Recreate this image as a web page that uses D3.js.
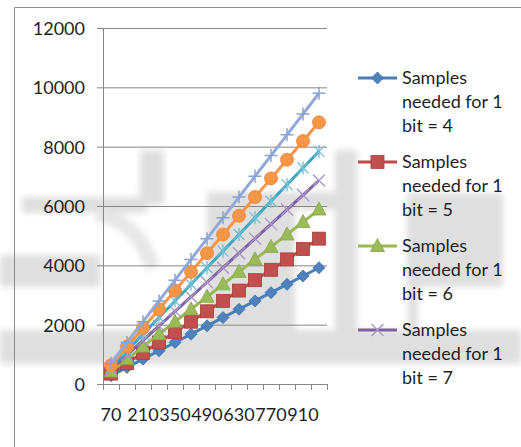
<!DOCTYPE html>
<html>
<head>
<meta charset="utf-8">
<script src="https://cdn.jsdelivr.net/npm/d3@7"></script>
<style>
  html, body { margin: 0; padding: 0; background: #fff; }
  svg { display: block; }
  text { font-family: Lato, "Open Sans", sans-serif; fill: #1f1f1f; }
</style>
</head>
<body>
<svg id="chart" width="521" height="447"></svg>
<script>
// Samples per run (category axis)
const categories = [70, 140, 210, 280, 350, 420, 490, 560, 630, 700, 770, 840, 910, 980];

// Total samples needed, one list per "samples needed for 1 bit" setting
const samples4  = [280, 560, 840, 1120, 1400, 1680, 1960, 2240, 2520, 2800, 3080, 3360, 3640, 3920];
const samples5  = [350, 700, 1050, 1400, 1750, 2100, 2450, 2800, 3150, 3500, 3850, 4200, 4550, 4900];
const samples6  = [420, 840, 1260, 1680, 2100, 2520, 2940, 3360, 3780, 4200, 4620, 5040, 5460, 5880];
const samples7  = [490, 980, 1470, 1960, 2450, 2940, 3430, 3920, 4410, 4900, 5390, 5880, 6370, 6860];
const samples8  = [560, 1120, 1680, 2240, 2800, 3360, 3920, 4480, 5040, 5600, 6160, 6720, 7280, 7840];
const samples9  = [630, 1260, 1890, 2520, 3150, 3780, 4410, 5040, 5670, 6300, 6930, 7560, 8190, 8820];
const samples10 = [700, 1400, 2100, 2800, 3500, 4200, 4900, 5600, 6300, 7000, 7700, 8400, 9100, 9800];

const seriesNames = [
  "Samples needed for 1 bit = 4",
  "Samples needed for 1 bit = 5",
  "Samples needed for 1 bit = 6",
  "Samples needed for 1 bit = 7",
  "Samples needed for 1 bit = 8",
  "Samples needed for 1 bit = 9",
  "Samples needed for 1 bit = 10"
];
const yTicks = [0, 2000, 4000, 6000, 8000, 10000, 12000];
const xTickLabels = ["70", "210", "350", "490", "630", "770", "910"];

const seriesValues = [samples4, samples5, samples6, samples7, samples8, samples9, samples10];

// Visual style for each series: line colour, marker shape and colours
const styles = [
  { line: "#4A7EBB", marker: "diamond",  fill: "#4F81BD", stroke: "#3D6EAB" },
  { line: "#BE4B48", marker: "square",   fill: "#C0504D", stroke: "#A63E3B" },
  { line: "#98B954", marker: "triangle", fill: "#9BBB59", stroke: "#86A646" },
  { line: "#7D60A0", marker: "x",        fill: "none",    stroke: "#A996C7" },
  { line: "#3FA6C2", marker: "star",     fill: "none",    stroke: "#6FBFD4" },
  { line: "#F79646", marker: "circle",   fill: "#F79646", stroke: "#E8873A" },
  { line: "#93A9D8", marker: "plus",     fill: "none",    stroke: "#8AA2D4" }
];

const FONT = "18px";
const svg = d3.select("#chart");

// ---- soft grey shapes in the background ----
const defs = svg.append("defs");
defs.append("filter").attr("id", "soft").attr("x", "-20%").attr("y", "-20%")
  .attr("width", "140%").attr("height", "140%")
  .append("feGaussianBlur").attr("stdDeviation", 3);

const bg = svg.append("g").attr("filter", "url(#soft)").attr("fill", "#dfdfdf");
[
  [22, 197, 125, 16],
  [140, 150, 24, 55],
  [0, 255, 100, 32],
  [0, 330, 521, 34],
  [207, 192, 150, 18],
  [207, 192, 88, 140],
  [335, 150, 22, 182],
  [407, 193, 96, 94],
  [408, 287, 10, 45]
].forEach(r => bg.append("rect").attr("x", r[0]).attr("y", r[1]).attr("width", r[2]).attr("height", r[3]));
bg.append("path").attr("d", "M96,214 Q140,222 152,268")
  .attr("fill", "none").attr("stroke", "#e6e6e6").attr("stroke-width", 14);

// ---- chart area border ----
svg.append("path").attr("d", "M14.5,447 V7.5 H521")
  .attr("fill", "none").attr("stroke", "#8c8c8c").attr("stroke-width", 1);

// ---- plot area ----
const plot = { left: 103, right: 327, top: 28, bottom: 384 };

const x = d3.scaleBand().domain(categories).range([plot.left, plot.right]).padding(0);
const y = d3.scaleLinear().domain([0, 12000]).range([plot.bottom, plot.top]);

// horizontal gridlines + y labels
const yAxis = d3.axisLeft(y).tickValues(yTicks).tickSize(0).tickFormat(d3.format("d"));
const gy = svg.append("g").attr("transform", `translate(${plot.left - 6},0)`).call(yAxis);
gy.select(".domain").remove();
gy.selectAll(".tick line").attr("x1", 0).attr("x2", plot.right - plot.left + 6)
  .attr("stroke", "#878787").attr("stroke-width", 1);
gy.selectAll(".tick text").attr("x", -12).attr("dy", "0.36em")
  .style("font-size", FONT).style("font-family", "Lato, sans-serif").attr("fill", "#1f1f1f");

// vertical axis line
svg.append("line").attr("x1", plot.left + 0.5).attr("x2", plot.left + 0.5)
  .attr("y1", plot.top).attr("y2", plot.bottom + 6)
  .attr("stroke", "#878787");

// category axis with ticks between categories
const bandEdges = categories.map(c => x(c)).concat([plot.right]);
const gx = svg.append("g");
gx.append("line").attr("x1", plot.left).attr("x2", plot.right + 0.5)
  .attr("y1", plot.bottom + 0.5).attr("y2", plot.bottom + 0.5).attr("stroke", "#878787");
gx.selectAll("line.tk").data(bandEdges).join("line").attr("class", "tk")
  .attr("x1", d => Math.round(d) + 0.5).attr("x2", d => Math.round(d) + 0.5)
  .attr("y1", plot.bottom).attr("y2", plot.bottom + 6).attr("stroke", "#878787");
const xAxis = d3.axisBottom(x).tickSize(0).tickPadding(0)
  .tickFormat(d => xTickLabels.includes(String(d)) ? String(d) : "");
const gxl = svg.append("g").attr("transform", `translate(0,${plot.bottom})`).call(xAxis);
gxl.select(".domain").remove();
gxl.selectAll(".tick text").attr("y", 37).attr("dy", 0)
  .style("font-size", FONT).style("font-family", "Lato, sans-serif").attr("fill", "#1f1f1f");

// marker drawing
function drawMarker(g, st) {
  switch (st.marker) {
    case "diamond":
      g.append("path").attr("d", "M0,-6 L6,0 L0,6 L-6,0Z")
        .attr("fill", st.fill).attr("stroke", st.stroke).attr("stroke-width", 0.8); break;
    case "square":
      g.append("rect").attr("x", -6.5).attr("y", -6.5).attr("width", 13).attr("height", 13)
        .attr("fill", st.fill).attr("stroke", st.stroke).attr("stroke-width", 0.8); break;
    case "triangle":
      g.append("path").attr("d", "M0,-7.5 L7,5.5 L-7,5.5Z")
        .attr("fill", st.fill).attr("stroke", st.stroke).attr("stroke-width", 0.8); break;
    case "x":
      g.append("path").attr("d", "M-6,-6 L6,6 M-6,6 L6,-6")
        .attr("stroke", st.stroke).attr("stroke-width", 1.3).attr("fill", "none"); break;
    case "star":
      g.append("path").attr("d", "M-5.5,-5.5 L5.5,5.5 M-5.5,5.5 L5.5,-5.5 M0,-6.5 L0,6.5")
        .attr("stroke", st.stroke).attr("stroke-width", 1.3).attr("fill", "none"); break;
    case "circle":
      g.append("circle").attr("r", 6.5)
        .attr("fill", st.fill).attr("stroke", st.stroke).attr("stroke-width", 0.8); break;
    case "plus":
      g.append("path").attr("d", "M-6.5,0 L6.5,0 M0,-6.5 L0,6.5")
        .attr("stroke", st.stroke).attr("stroke-width", 1.5).attr("fill", "none"); break;
  }
}

const cx = c => x(c) + x.bandwidth() / 2;
const lineGen = d3.line().x((d, i) => cx(categories[i])).y(d => y(d));

const series = svg.append("g");
seriesValues.forEach((vals, si) => {
  const st = styles[si];
  const g = series.append("g");
  g.append("path").datum(vals).attr("d", lineGen)
    .attr("fill", "none").attr("stroke", st.line).attr("stroke-width", 3)
    .attr("stroke-linejoin", "round");
  vals.forEach((v, i) => {
    const m = g.append("g").attr("transform", `translate(${cx(categories[i])},${y(v)})`);
    drawMarker(m, st);
  });
});

// ---- legend: entries are stacked until the legend box is full ----
const legendBox = { top: 78, bottom: 392, step: 84, lineGap: 23.8 };
const legend = svg.append("g");
seriesNames.forEach((name, i) => {
  const top = legendBox.top + i * legendBox.step;
  if (top + 2 * legendBox.lineGap + 6 > legendBox.bottom) return;
  const st = styles[i];
  const e = legend.append("g");
  e.append("line").attr("x1", 358).attr("x2", 397).attr("y1", top).attr("y2", top)
    .attr("stroke", st.line).attr("stroke-width", 3);
  drawMarker(e.append("g").attr("transform", `translate(377.5,${top})`), st);
  const lines = name.replace("Samples ", "Samples|").replace("1 bit", "1|bit").split("|");
  lines.forEach((w, j) => {
    e.append("text").attr("x", 402).attr("y", top + 6 + j * legendBox.lineGap)
      .style("font-size", FONT).text(w);
  });
});
</script>
</body>
</html>
